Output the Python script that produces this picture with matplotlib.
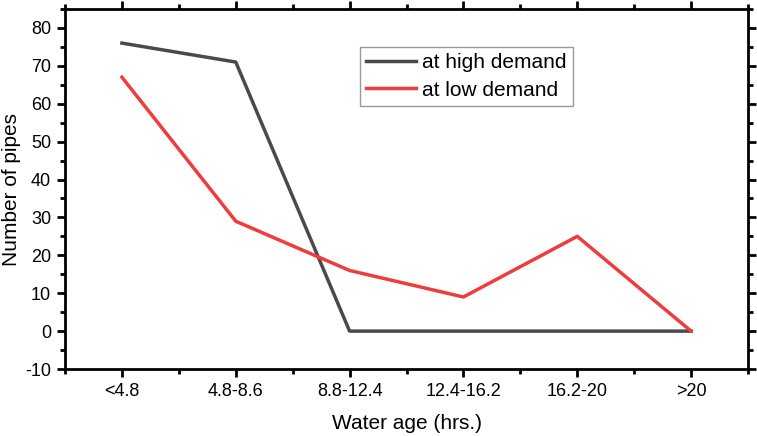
import matplotlib
matplotlib.use("Agg")
import matplotlib.pyplot as plt
from matplotlib.ticker import MultipleLocator

categories = ["<4.8", "4.8-8.6", "8.8-12.4", "12.4-16.2", "16.2-20", ">20"]
high_demand = [76, 71, 0, 0, 0, 0]
low_demand = [67, 29, 16, 9, 25, 0]

plt.rcParams['font.family'] = ['Liberation Sans', 'DejaVu Sans']
plt.rcParams['axes.unicode_minus'] = False

fig = plt.figure(figsize=(7.57, 4.36), dpi=100)
ax = fig.add_axes([65/757, 1-369/436, (748-65)/757, (369-9)/436])

x = list(range(len(categories)))
ax.plot(x, high_demand, color='#4a4a4a', lw=2.5, label='at high demand')
ax.plot(x, low_demand, color='#f03c3c', lw=2.5, label='at low demand')

ax.set_xlim(-0.5, 5.5)
ax.set_ylim(-10, 85)
ax.set_xticks(x)
ax.set_xticklabels(categories)
ax.xaxis.set_minor_locator(MultipleLocator(0.5))
ax.set_yticks(range(-10, 81, 10))
ax.yaxis.set_minor_locator(MultipleLocator(5))

for s in ax.spines.values():
    s.set_linewidth(2)
ax.tick_params(which='both', direction='out', width=2, top=True, right=True, labeltop=False, labelright=False)
ax.tick_params(which='major', length=6, labelsize=13, pad=4)
ax.tick_params(which='minor', length=3.5)

ax.set_xlabel('Water age (hrs.)', fontsize=15, va='center')
ax.set_ylabel('Number of pipes', fontsize=15, va='center')
ax.xaxis.set_label_coords((407-65)/683, -(423-369)/360)
ax.yaxis.set_label_coords(-(65-12)/683, 0.5)

leg = ax.legend(loc='upper left', bbox_to_anchor=((360-65)/683, 1-(47-9)/360), fontsize=15,
                frameon=True, fancybox=False, edgecolor='#808080', handlelength=2.4,
                borderpad=0.3, labelspacing=0.4, handletextpad=0.3, borderaxespad=0)
leg.get_frame().set_linewidth(1)

fig.savefig('out.png', dpi=100)
